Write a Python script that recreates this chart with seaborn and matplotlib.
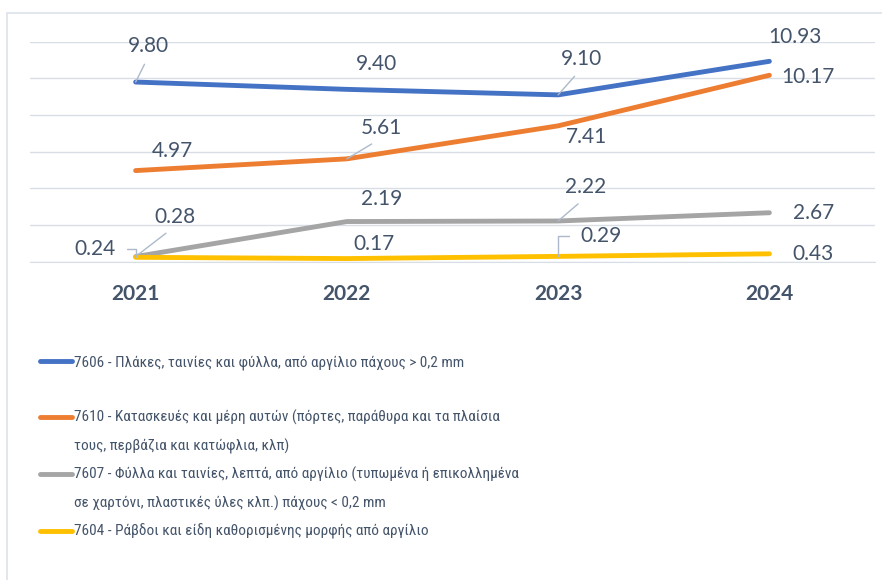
import pandas as pd
import matplotlib.pyplot as plt
import seaborn as sns
from matplotlib.lines import Line2D
from matplotlib.patches import Rectangle

# data
years = ["2021", "2022", "2023", "2024"]
series_names = ["7606", "7610", "7607", "7604"]
v_7606 = [9.80, 9.40, 9.10, 10.93]
v_7610 = [4.97, 5.61, 7.41, 10.17]
v_7607 = [0.28, 2.19, 2.22, 2.67]
v_7604 = [0.24, 0.17, 0.29, 0.43]
legend_labels = [
    "7606 - Πλάκες, ταινίες και φύλλα, από αργίλιο πάχους > 0,2 mm",
    "7610 - Κατασκευές και μέρη αυτών (πόρτες, παράθυρα και τα πλαίσια\nτους, περβάζια και κατώφλια, κλπ)",
    "7607 - Φύλλα και ταινίες, λεπτά, από αργίλιο (τυπωμένα ή επικολλημένα\nσε χαρτόνι, πλαστικές ύλες κλπ.) πάχους < 0,2 mm",
    "7604 - Ράβδοι και είδη καθορισμένης μορφής από αργίλιο",
]
colors = ["#4472c4", "#ed7d31", "#a5a5a5", "#ffc000"]

values = [v_7606, v_7610, v_7607, v_7604]
df = pd.DataFrame({
    "year": years * 4,
    "series": [s for s in series_names for _ in years],
    "value": [v for vals in values for v in vals],
})

sns.set_style("white")
plt.rcParams["font.family"] = ["Lato", "DejaVu Sans"]
text_col = "#44546a"
grid_col = "#d9dee6"
lead_col = "#adb9ca"

fig = plt.figure(figsize=(8.82, 5.8), dpi=100)
ax = fig.add_axes([30 / 882, 0.5488, 845 / 882, 0.3793])

sns.lineplot(data=df, x="year", y="value", hue="series", hue_order=series_names,
             palette=colors, lw=3.5, solid_capstyle="round", legend=False,
             sort=False, ax=ax)

ax.set_ylim(0, 12)
ax.set_xlim(-0.5, 3.5)
ax.set_yticks(range(0, 13, 2))
ax.yaxis.grid(True, color=grid_col, lw=1)
ax.set_axisbelow(True)
ax.tick_params(axis="y", left=False, labelleft=False)
for s in ["top", "right", "left"]:
    ax.spines[s].set_visible(False)
ax.spines["bottom"].set_color(grid_col)
ax.set_xticks(range(4))
ax.set_xticklabels(years, fontsize=15, fontweight="bold", color=text_col)
ax.set_xticks([-0.5, 0.5, 1.5, 2.5, 3.5], minor=True)
ax.tick_params(axis="x", which="major", length=0, pad=16)
ax.tick_params(axis="x", which="minor", length=5, color=grid_col, direction="out")
ax.set_xlabel("")
ax.set_ylabel("")

# label offsets in pixels (dx, dy upward) and leader style per point
offsets = [
    [(13, 36), (30, 25), (23, 36), (26, 24)],
    [(37, 20), (35, 31), (28, -11), (39, -2)],
    [(39, 40), (35, 23), (28, 34), (44, 0)],
    [(-41, 8), (27, 15), (43, 20), (44, 0)],
]
leaders = {(0, 0): "up", (0, 2): "up", (1, 1): "up", (2, 0): "up", (2, 2): "up",
           (3, 0): "right", (3, 2): "left"}

for si, vals in enumerate(values):
    for xi, v in enumerate(vals):
        dx, dy = offsets[si][xi]
        kind = leaders.get((si, xi))
        arrow = None
        if kind == "up":
            arrow = dict(arrowstyle="-", color=lead_col, lw=1, shrinkA=4, shrinkB=0,
                         relpos=(0.5, 0))
        elif kind == "right":
            arrow = dict(arrowstyle="-", color=lead_col, lw=1, shrinkA=6, shrinkB=0,
                         relpos=(1, 0.5), connectionstyle="angle,angleA=0,angleB=90,rad=0")
        elif kind == "left":
            arrow = dict(arrowstyle="-", color=lead_col, lw=1, shrinkA=6, shrinkB=0,
                         relpos=(0, 0.5), connectionstyle="angle,angleA=0,angleB=90,rad=0")
        ax.annotate(f"{v:.2f}", xy=(xi, v), xytext=(dx, dy), textcoords="offset pixels",
                    ha="center", va="center", fontsize=15, color=text_col,
                    arrowprops=arrow, annotation_clip=False)

# outer chart frame
fig.patches.append(Rectangle((7 / 882, -0.1), 1.2, 1.1 - 13 / 580, transform=fig.transFigure,
                             fill=False, ec="#dde3ea", lw=1.2, zorder=0))

# legend, one row per text line
handles = []
labels = []
for i, (lab, c) in enumerate(zip(legend_labels, colors)):
    parts = lab.split("\n")
    handles.append(Line2D([], [], color=c, lw=3.5, solid_capstyle="round"))
    labels.append(parts[0])
    for p in parts[1:]:
        handles.append(Line2D([], [], color="none"))
        labels.append(p)
    if i == 0:
        handles.append(Line2D([], [], color="none"))
        labels.append(" ")

leg_font = {"family": ["Roboto Condensed", "Fira Sans Condensed", "DejaVu Sans"], "size": 11}
leg = fig.legend(handles, labels, loc="upper left", bbox_to_anchor=(40 / 882, 1 - 355 / 580),
                 frameon=False, borderpad=0, borderaxespad=0, handlelength=2.1,
                 handletextpad=0.13, labelspacing=0.86, prop=leg_font)
for t in leg.get_texts():
    t.set_color(text_col)

fig.savefig("out.png", dpi=100, facecolor="white")
